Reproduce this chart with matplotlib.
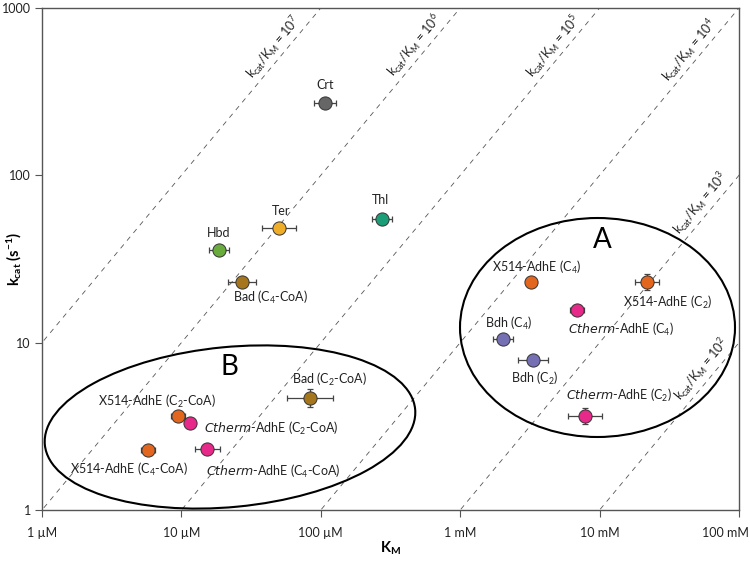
import matplotlib
matplotlib.use("Agg")
import matplotlib.pyplot as plt
import matplotlib.transforms as mtransforms
from matplotlib.patches import Ellipse
import numpy as np

plt.rcParams["font.family"] = ["Lato", "DejaVu Sans"]
plt.rcParams["mathtext.default"] = "regular"

# enzyme data: K_M (M), k_cat (1/s), error half widths in decades (log10)
names = ["Crt", "Hbd", "Ter", "Thl", "Bad (C$_4$-CoA)", "Bad (C$_2$-CoA)",
         "X514-AdhE (C$_2$-CoA)", "$\\it{Ctherm}$-AdhE (C$_2$-CoA)",
         "X514-AdhE (C$_4$-CoA)", "$\\it{Ctherm}$-AdhE (C$_4$-CoA)",
         "X514-AdhE (C$_4$)", "X514-AdhE (C$_2$)", "$\\it{Ctherm}$-AdhE (C$_4$)",
         "Bdh (C$_4$)", "Bdh (C$_2$)", "$\\it{Ctherm}$-AdhE (C$_2$)"]
km = [107e-6, 18.6e-6, 50e-6, 275e-6, 27.2e-6, 83.7e-6,
      9.45e-6, 11.5e-6, 5.76e-6, 15.3e-6,
      3.22e-3, 21.9e-3, 6.88e-3, 2.03e-3, 3.33e-3, 7.86e-3]
kcat = [271, 35.8, 48.5, 54.9, 23.1, 4.67,
        3.65, 3.31, 2.28, 2.31,
        23.0, 23.0, 15.7, 10.5, 7.88, 3.65]
km_err = [0.079, 0.075, 0.122, 0.072, 0.10, 0.165,
          0.05, 0.0, 0.05, 0.09,
          0.0, 0.086, 0.05, 0.072, 0.11, 0.12]
kcat_err = [0, 0, 0, 0, 0, 0.054,
            0, 0, 0, 0,
            0, 0.048, 0, 0, 0.027, 0.05]
colors = ["#666666", "#6aab3e", "#efae2a", "#1b9e77", "#a6761d", "#a6761d",
          "#e2661e", "#e7298a", "#e2661e", "#e7298a",
          "#e2661e", "#e2661e", "#e7298a", "#7570b3", "#7570b3", "#e7298a"]
# label offsets in pixels (dx, dy) and horizontal alignment
label_pos = [(0, 18, "center"), (0, 17, "center"), (2, 17, "center"), (-2, 19, "center"),
             (29, -16, "center"), (19, 19, "center"),
             (-21, 14, "center"), (14, -5, "left"),
             (-19, -19, "center"), (66, -22, "center"),
             (6, 15, "center"), (21, -20, "center"), (44, -20, "center"),
             (6, 16, "center"), (2, -18, "center"), (34, 20, "center")]

# efficiency lines k_cat/K_M
ratios = [1e7, 1e6, 1e5, 1e4, 1e3, 1e2]
ratio_labels = ["10$^7$", "10$^6$", "10$^5$", "10$^4$", "10$^3$", "10$^2$"]
ratio_label_km = [5.27e-5, 5.41e-4, 5.37e-3, 5.08e-2, 6.14e-2, 6.27e-2]

x_ticks = [1e-6, 1e-5, 1e-4, 1e-3, 1e-2, 1e-1]
x_ticklabels = ["1 µM", "10 µM", "100 µM", "1 mM", "10 mM", "100 mM"]
y_ticks = [1, 10, 100, 1000]
y_ticklabels = ["1", "10", "100", "1000"]

fig = plt.figure(figsize=(7.5, 5.62), dpi=100)
ax = fig.add_axes([0.056, 0.0925, 0.9293, 0.8933])
ax.set_xscale("log")
ax.set_yscale("log")
ax.set_xlim(1e-6, 1e-1)
ax.set_ylim(1, 1000)

xs = np.logspace(-7, 0, 50)
for r, lab, lk in zip(ratios, ratio_labels, ratio_label_km):
    ax.plot(xs, r * xs, ls=(0, (6, 6)), color="#555555", lw=0.6, zorder=1)
    ax.annotate("k$_{cat}$/K$_M$ = " + lab, xy=(lk, r * lk), xytext=(-9, 7.5),
                textcoords="offset pixels", rotation=50.2, rotation_mode="anchor",
                ha="center", va="center", fontsize=9, color="#222222")

for i in range(len(names)):
    x, y = km[i], kcat[i]
    xe, ye = km_err[i], kcat_err[i]
    xerr = [[x - x / 10 ** xe], [x * 10 ** xe - x]]
    yerr = [[y - y / 10 ** ye], [y * 10 ** ye - y]]
    ax.errorbar(x, y, xerr=xerr if xe else None, yerr=yerr if ye else None,
                fmt="none", ecolor="#444444", elinewidth=0.9, capsize=2.5,
                capthick=0.9, zorder=2)
    ax.plot(x, y, "o", ms=9.5, mfc=colors[i], mec="#333333", mew=0.7, zorder=3)
    dx, dy, ha = label_pos[i]
    ax.annotate(names[i], xy=(x, y), xytext=(dx, dy), textcoords="offset pixels",
                ha=ha, va="center", fontsize=9, color="#222222")

# group outlines
ax.add_patch(Ellipse((2.30, 1.35), 3.72, 1.60, angle=5.5, fill=False, lw=1.5,
                     ec="black", transform=fig.dpi_scale_trans, zorder=4))
ax.add_patch(Ellipse((5.975, 2.345), 2.75, 2.19, angle=0, fill=False, lw=1.5,
                     ec="black", transform=fig.dpi_scale_trans, zorder=4))
fig.text(602 / 750, 1 - 240 / 562, "A", fontsize=20, ha="center", va="center")
fig.text(229 / 750, 1 - 367 / 562, "B", fontsize=20, ha="center", va="center")

ax.set_xticks(x_ticks)
ax.set_xticklabels(x_ticklabels)
ax.set_yticks(y_ticks)
ax.set_yticklabels(y_ticklabels)
ax.minorticks_off()
ax.tick_params(labelsize=9, length=5, width=0.8, color="#555555", labelcolor="#222222")
ax.tick_params(axis="x", pad=7)
ax.tick_params(axis="y", pad=3)
# keep last x label inside figure
last = ax.get_xticklabels()[-1]
last.set_transform(last.get_transform() + mtransforms.ScaledTranslation(-0.14, 0, fig.dpi_scale_trans))
for spine in ax.spines.values():
    spine.set_edgecolor("#555555")
    spine.set_linewidth(1.0)

ax.set_xlabel("K$_M$", fontsize=10.5, fontweight="bold", va="center")
ax.xaxis.set_label_coords(0.5, -0.076)
ax.set_ylabel("k$_{cat}$ (s$^{-1}$)", fontsize=10.5, fontweight="bold", va="center")
ax.yaxis.set_label_coords(-0.04, 0.5)

fig.savefig("out.png", dpi=100)
